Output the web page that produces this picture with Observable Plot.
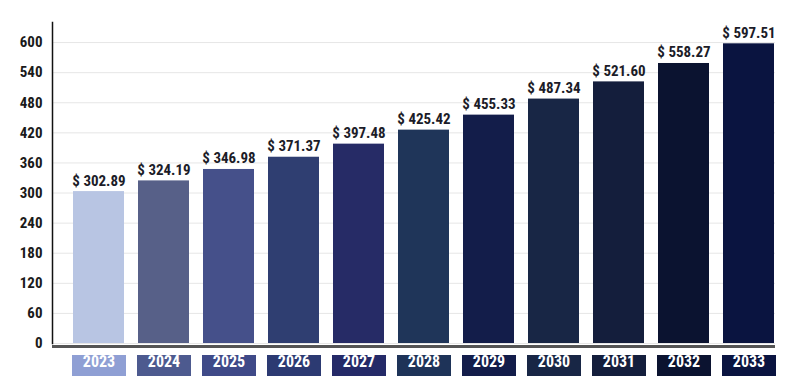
<!DOCTYPE html>
<html>
<head>
<meta charset="utf-8">
<script src="https://cdn.jsdelivr.net/npm/d3@7"></script>
<script src="https://cdn.jsdelivr.net/npm/@observablehq/plot@0.6"></script>
<style>
  html, body { margin: 0; padding: 0; background: #ffffff; }
  #chart { width: 796px; height: 392px; }
</style>
</head>
<body>
<div id="chart"></div>
<script>
const years = ["2023", "2024", "2025", "2026", "2027", "2028", "2029", "2030", "2031", "2032", "2033"];
const values = [302.89, 324.19, 346.98, 371.37, 397.48, 425.42, 455.33, 487.34, 521.60, 558.27, 597.51];
const barColors = ["#b8c5e3", "#576088", "#45508a", "#2f3e71", "#262b66", "#1f3559", "#131d4a", "#182645", "#141e3c", "#0b1330", "#0a1440"];
const boxColors = ["#8f9fd4", "#4d5a8f", "#3f4a88", "#2c3a72", "#252a68", "#1e3358", "#131d4a", "#182645", "#141e3c", "#0b1330", "#0a1440"];
const yTicks = [0, 60, 120, 180, 240, 300, 360, 420, 480, 540, 600];

const data = years.map((year, i) => ({ year, value: values[i], color: barColors[i], box: boxColors[i] }));

const font = '"Roboto Condensed", "Liberation Sans Narrow", "DejaVu Sans Condensed", "Arial Narrow", sans-serif';

const chart = Plot.plot({
  width: 796,
  height: 392,
  marginLeft: 52,
  marginRight: 21,
  marginTop: 22,
  marginBottom: 49,
  style: { fontFamily: font, fontWeight: 700, background: "#ffffff" },
  x: { type: "band", domain: years, paddingInner: 0.218, paddingOuter: 0.153, align: 0.95, axis: null },
  y: { domain: [0, 640], axis: null },
  color: { type: "identity" },
  marks: [
    Plot.gridY(yTicks, { stroke: "#e6e6e6", strokeOpacity: 1 }),
    Plot.axisY(yTicks, { tickSize: 0, tickPadding: 10, fontSize: 15, fill: "#1a1a1a", label: null }),
    Plot.frame({ anchor: "left", stroke: "#111111", strokeWidth: 1.5 }),
    Plot.barY(data, { x: "year", y: "value", fill: "color" }),
    Plot.ruleY([0], { stroke: "#555555", strokeWidth: 3, dy: 3 }),
    Plot.text(data, {
      x: "year", y: "value",
      text: d => "$ " + d.value.toFixed(2),
      dy: -6, lineAnchor: "bottom",
      fontSize: 15, fill: "#1c1c28"
    }),
    Plot.ruleX(data, { x: "year", stroke: "box", strokeWidth: 54, insetTop: 333, insetBottom: -33 }),
    Plot.text(data, {
      x: "year", text: "year", frameAnchor: "bottom",
      dy: 23, fontSize: 16, fill: "#ffffff"
    })
  ]
});

document.getElementById("chart").appendChild(chart);
</script>
</body>
</html>
